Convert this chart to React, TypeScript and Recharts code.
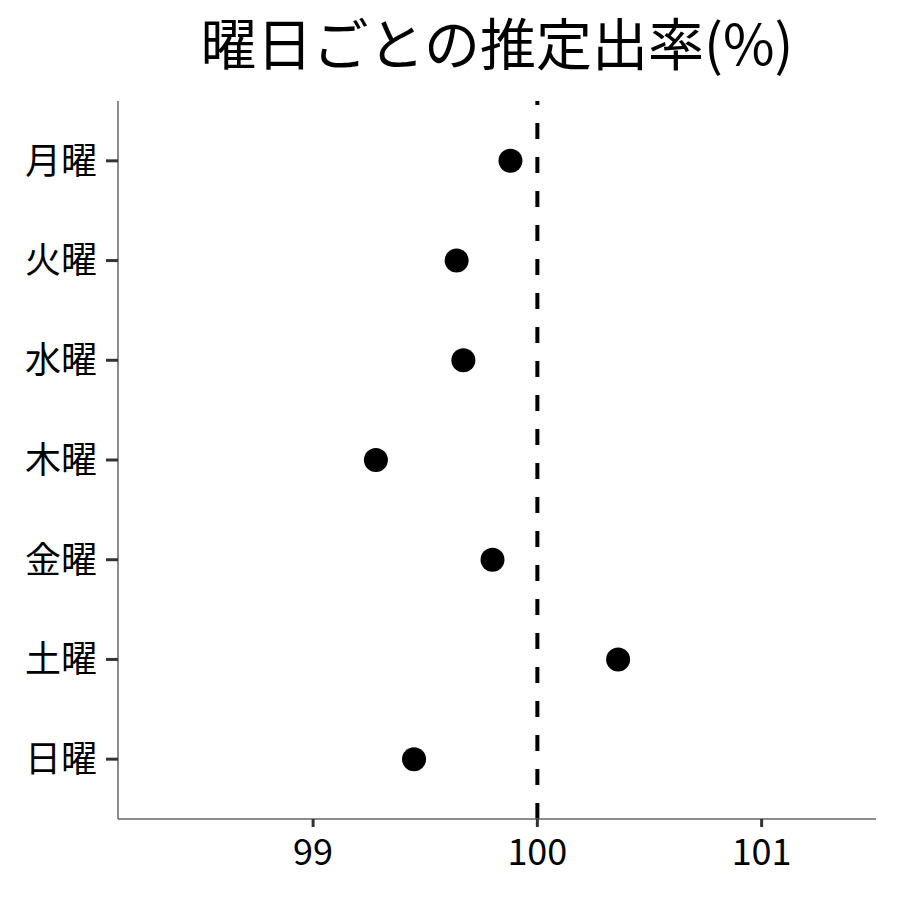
import { ScatterChart, Scatter, XAxis, YAxis, ReferenceLine } from "recharts";

const days = ["月曜", "火曜", "水曜", "木曜", "金曜", "土曜", "日曜"];
const rates = [99.88, 99.64, 99.67, 99.28, 99.8, 100.36, 99.45];
const xTicks = [99, 100, 101];
const yTicks = [1, 2, 3, 4, 5, 6, 7];

const data = days.map((day, i) => ({ day, idx: i + 1, rate: rates[i] }));

const FONT = "'Noto Sans CJK JP', 'Noto Sans', sans-serif";

const Dot = (props: any) => <circle cx={props.cx} cy={props.cy} r={12} fill="#000" />;

export default function App() {
  return (
    <div style={{ position: "absolute", left: 0, top: 0, width: 900, height: 900, background: "#fff", fontFamily: FONT }}>
      <div
        style={{
          position: "absolute",
          left: 118,
          width: 758,
          top: 5,
          textAlign: "center",
          fontSize: 56,
          lineHeight: "72px",
          color: "#000",
        }}
      >
        曜日ごとの推定出率(%)
      </div>
      <ScatterChart width={900} height={900} margin={{ top: 101, right: 24, left: 0, bottom: 0 }}>
        <XAxis
          type="number"
          dataKey="rate"
          domain={[98.13, 101.51]}
          ticks={xTicks}
          allowDataOverflow
          height={81}
          tickSize={8}
          tickMargin={12}
          axisLine={{ stroke: "#666", strokeWidth: 1.5 }}
          tickLine={{ stroke: "#333", strokeWidth: 3 }}
          tick={{ fill: "#000", fontSize: 36, fontFamily: FONT }}
        />
        <YAxis
          type="number"
          dataKey="idx"
          domain={[0.4, 7.6]}
          ticks={yTicks}
          reversed
          width={118}
          tickSize={12}
          tickMargin={9}
          tickFormatter={(v: number) => days[v - 1]}
          axisLine={{ stroke: "#666", strokeWidth: 1.5 }}
          tickLine={{ stroke: "#333", strokeWidth: 3 }}
          tick={{ fill: "#000", fontSize: 36, fontFamily: FONT }}
        />
        <ReferenceLine x={100} stroke="#000" strokeWidth={4} strokeDasharray="16 18" />
        <Scatter data={data} shape={Dot} isAnimationActive={false} />
      </ScatterChart>
    </div>
  );
}
